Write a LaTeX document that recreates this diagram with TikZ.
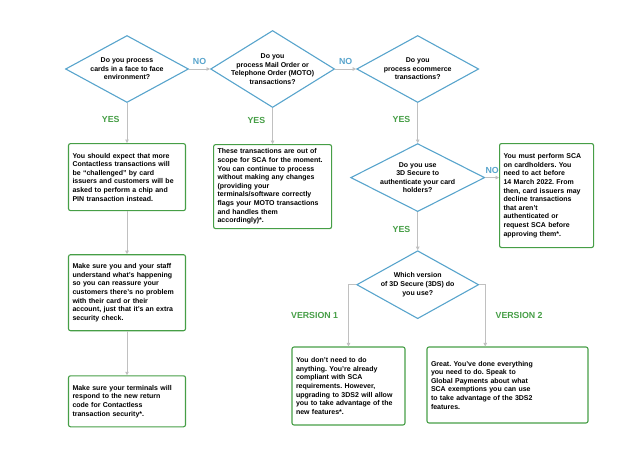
\documentclass[tikz,border=0pt]{standalone}
\usepackage{fontspec}
\setmainfont{Liberation Sans}
\usepackage{xcolor}
\usetikzlibrary{shapes.geometric,positioning}
\usetikzlibrary{arrows.meta}
\definecolor{qblue}{RGB}{88,164,204}
\definecolor{agreen}{RGB}{70,158,70}
\definecolor{linegray}{RGB}{192,192,192}
\frenchspacing

\begin{document}
\begin{tikzpicture}[
    x=1pt, y=-1pt,
    font=\fontsize{7}{8.6}\selectfont\bfseries,
    question/.style={draw=qblue, line width=1.1pt, diamond, aspect=1.8, inner sep=-5pt, align=center, minimum width=123pt, minimum height=67pt},
    answer/.style={draw=agreen, line width=1.1pt, rounded corners=2pt, align=left, inner xsep=4pt, inner ysep=2pt},
    arrow/.style={-{Triangle[length=3.5pt, width=3.5pt]}, linegray, line width=0.8pt},
    yes/.style={text=agreen, font=\fontsize{8.8}{10}\selectfont\bfseries, inner sep=1pt},
    no/.style={text=qblue, font=\fontsize{8.8}{10}\selectfont\bfseries, inner sep=1pt}
]
\useasboundingbox (0,0) rectangle (640,463);

% questions
\node[question] (facetoface) at (127,69) {Do you process\\cards in a face to face\\environment?};
\node[question, right=21pt of facetoface, minimum width=124pt, minimum height=77pt] (moto) {Do you\\process Mail Order or\\Telephone Order (MOTO)\\transactions?};
\node[question, right=21pt of moto, minimum width=122pt] (ecom) {Do you\\process ecommerce\\transactions?};
\node[question, below=40pt of ecom, minimum width=134pt, minimum height=68pt] (threeds) {Do you use\\3D Secure to\\authenticate your card\\holders?};
\node[question, below=38pt of threeds, minimum width=122pt, minimum height=68pt] (version) {Which version\\of 3D Secure (3DS) do\\you use?};

% answers
\node[answer, text width=109pt, minimum height=67pt, below=40pt of facetoface] (challenged) {You should expect that more\\Contactless transactions will\\be “challenged” by card\\issuers and customers will be\\asked to perform a chip and\\PIN transaction instead.};
\node[answer, text width=109pt, minimum height=76pt, below=43pt of challenged] (reassure) {Make sure you and your staff\\understand what’s happening\\so you can reassure your\\customers there’s no problem\\with their card or their\\account, just that it’s an extra\\security check.};
\node[answer, text width=109pt, minimum height=51pt, below=44pt of reassure] (terminals) {Make sure your terminals will\\respond to the new return\\code for Contactless\\transaction security*.};
\node[answer, text width=110pt, minimum height=84pt, below=36pt of moto] (outofscope) {These transactions are out of\\scope for SCA for the moment.\\You can continue to process\\without making any changes\\(providing your\\terminals/software correctly\\flags your MOTO transactions\\and handles them\\accordingly)*.};
\node[answer, text width=86pt, minimum height=104pt, anchor=north west] (mustsca) at (499,143) {You must perform SCA\\on cardholders. You\\need to act before\\14 March 2022. From\\then, card issuers may\\decline transactions\\that aren’t\\authenticated or\\request SCA before\\approving them*.};
\node[answer, text width=105pt, minimum height=78pt] (nochange) at (348.5,386) {You don’t need to do\\anything. You’re already\\compliant with SCA\\requirements. However,\\upgrading to 3DS2 will allow\\you to take advantage of the\\new features*.};
\node[answer, text width=153pt, minimum height=76pt] (great) at (507.5,385) {Great. You’ve done everything\\you need to do. Speak to\\Global Payments about what\\SCA exemptions you can use\\to take advantage of the 3DS2\\features.};

% connectors
\draw[arrow] (facetoface) -- node[no, above=3pt] {NO} (moto);
\draw[arrow] (moto) -- node[no, above=3pt] {NO} (ecom);
\draw[arrow] (threeds.east) -- node[no, above=3pt] {NO} (threeds.east -| mustsca.west);
\draw[arrow] (facetoface) -- node[yes, pos=0.42, left=6pt] {YES} (challenged);
\draw[arrow] (moto) -- node[yes, pos=0.35, left=6pt] {YES} (outofscope);
\draw[arrow] (ecom) -- node[yes, pos=0.42, left=6pt] {YES} (threeds);
\draw[arrow] (threeds) -- node[yes, pos=0.45, left=6pt] {YES} (version);
\draw[arrow] (challenged) -- (reassure);
\draw[arrow] (reassure) -- (terminals);
\draw[arrow] (version.west) -| node[yes, pos=0.75, left=9pt] {VERSION 1} (nochange.north);
\draw[arrow] (version.east) -- ++(6,0) coordinate (vtwo) -- node[yes, right=9pt] {VERSION 2} (vtwo |- great.north);
\end{tikzpicture}
\end{document}
